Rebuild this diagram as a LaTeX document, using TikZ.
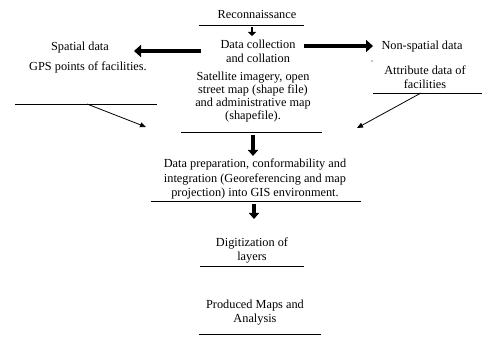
\documentclass[tikz,border=0pt]{standalone}
\usepackage{fontspec}
\setmainfont{Liberation Serif}
\usetikzlibrary{arrows.meta}
\begin{document}
\begin{tikzpicture}[x=1pt,y=-1pt,
  txt/.style={align=center,inner sep=0pt,font=\fontsize{12.3}{14}\selectfont},
  rule/.style={line width=0.9pt},
  bigarrow/.style={line width=4.5pt,-{Triangle[length=7pt,width=12pt]}},
  midarrow/.style={line width=3.5pt,-{Triangle[length=6pt,width=10pt]}},
  thinarrow/.style={line width=0.8pt,-{Triangle[length=6pt,width=5pt]}}]
\useasboundingbox (0,0) rectangle (482,339);
% texts
\node[txt] (recon) at (257,14) {Reconnaissance};
\node[txt] (collect) at (258,51) {Data collection\\and collation};
\node[txt,font=\fontsize{12.3}{13}\selectfont] (sat) at (253,97.5) {Satellite imagery, open\\street map (shape file)\\and administrative map\\(shapefile).};
\node[txt,font=\fontsize{12.3}{14.5}\selectfont] (prep) at (255,179) {Data preparation, conformability and\\integration (Georeferencing and map\\projection) into GIS environment.};
\node[txt] (digit) at (252,250) {Digitization of\\layers};
\node[txt] (maps) at (255,313) {Produced Maps and\\Analysis};
\node[txt] (spatial) at (80,48) {Spatial data};
\node[txt] (gps) at (88,67) {GPS points of facilities.};
\node[txt] (nonsp) at (422,47) {Non-spatial data};
\node[txt] (attr) at (425,77.5) {Attribute data of\\facilities};
\fill (372,61) circle (0.6);
% rules
\draw[rule] (199,25) -- (304,25);
\draw[rule] (181,132) -- (322,132);
\draw[rule] (151,201) -- (361,201);
\draw[rule] (200,266) -- (304,266);
\draw[rule] (199,334) -- (321,334);
\draw[rule] (15,104) -- (157,104);
\draw[rule] (373,93) -- (482,93);
% arrows
\coordinate (a1s) at (252,27); \coordinate (a1e) at (252,36);
\draw[line width=2.5pt,-{Triangle[length=4pt,width=8pt]}] (a1s) -- (a1e);
\coordinate (a2s) at (253,135); \coordinate (a2e) at (253,156);
\draw[midarrow] (a2s) -- (a2e);
\coordinate (a3s) at (254,204); \coordinate (a3e) at (254,219);
\draw[midarrow] (a3s) -- (a3e);
\coordinate (lS) at (201,51); \coordinate (lE) at (134,51);
\draw[bigarrow] (lS) -- (lE);
\coordinate (rS) at (304,46); \coordinate (rE) at (373,46);
\draw[bigarrow] (rS) -- (rE);
\coordinate (d1s) at (87,104); \coordinate (d1e) at (146,127);
\draw[thinarrow] (d1s) -- (d1e);
\coordinate (d2s) at (421,93); \coordinate (d2e) at (357,128);
\draw[thinarrow] (d2s) -- (d2e);
\end{tikzpicture}
\end{document}
